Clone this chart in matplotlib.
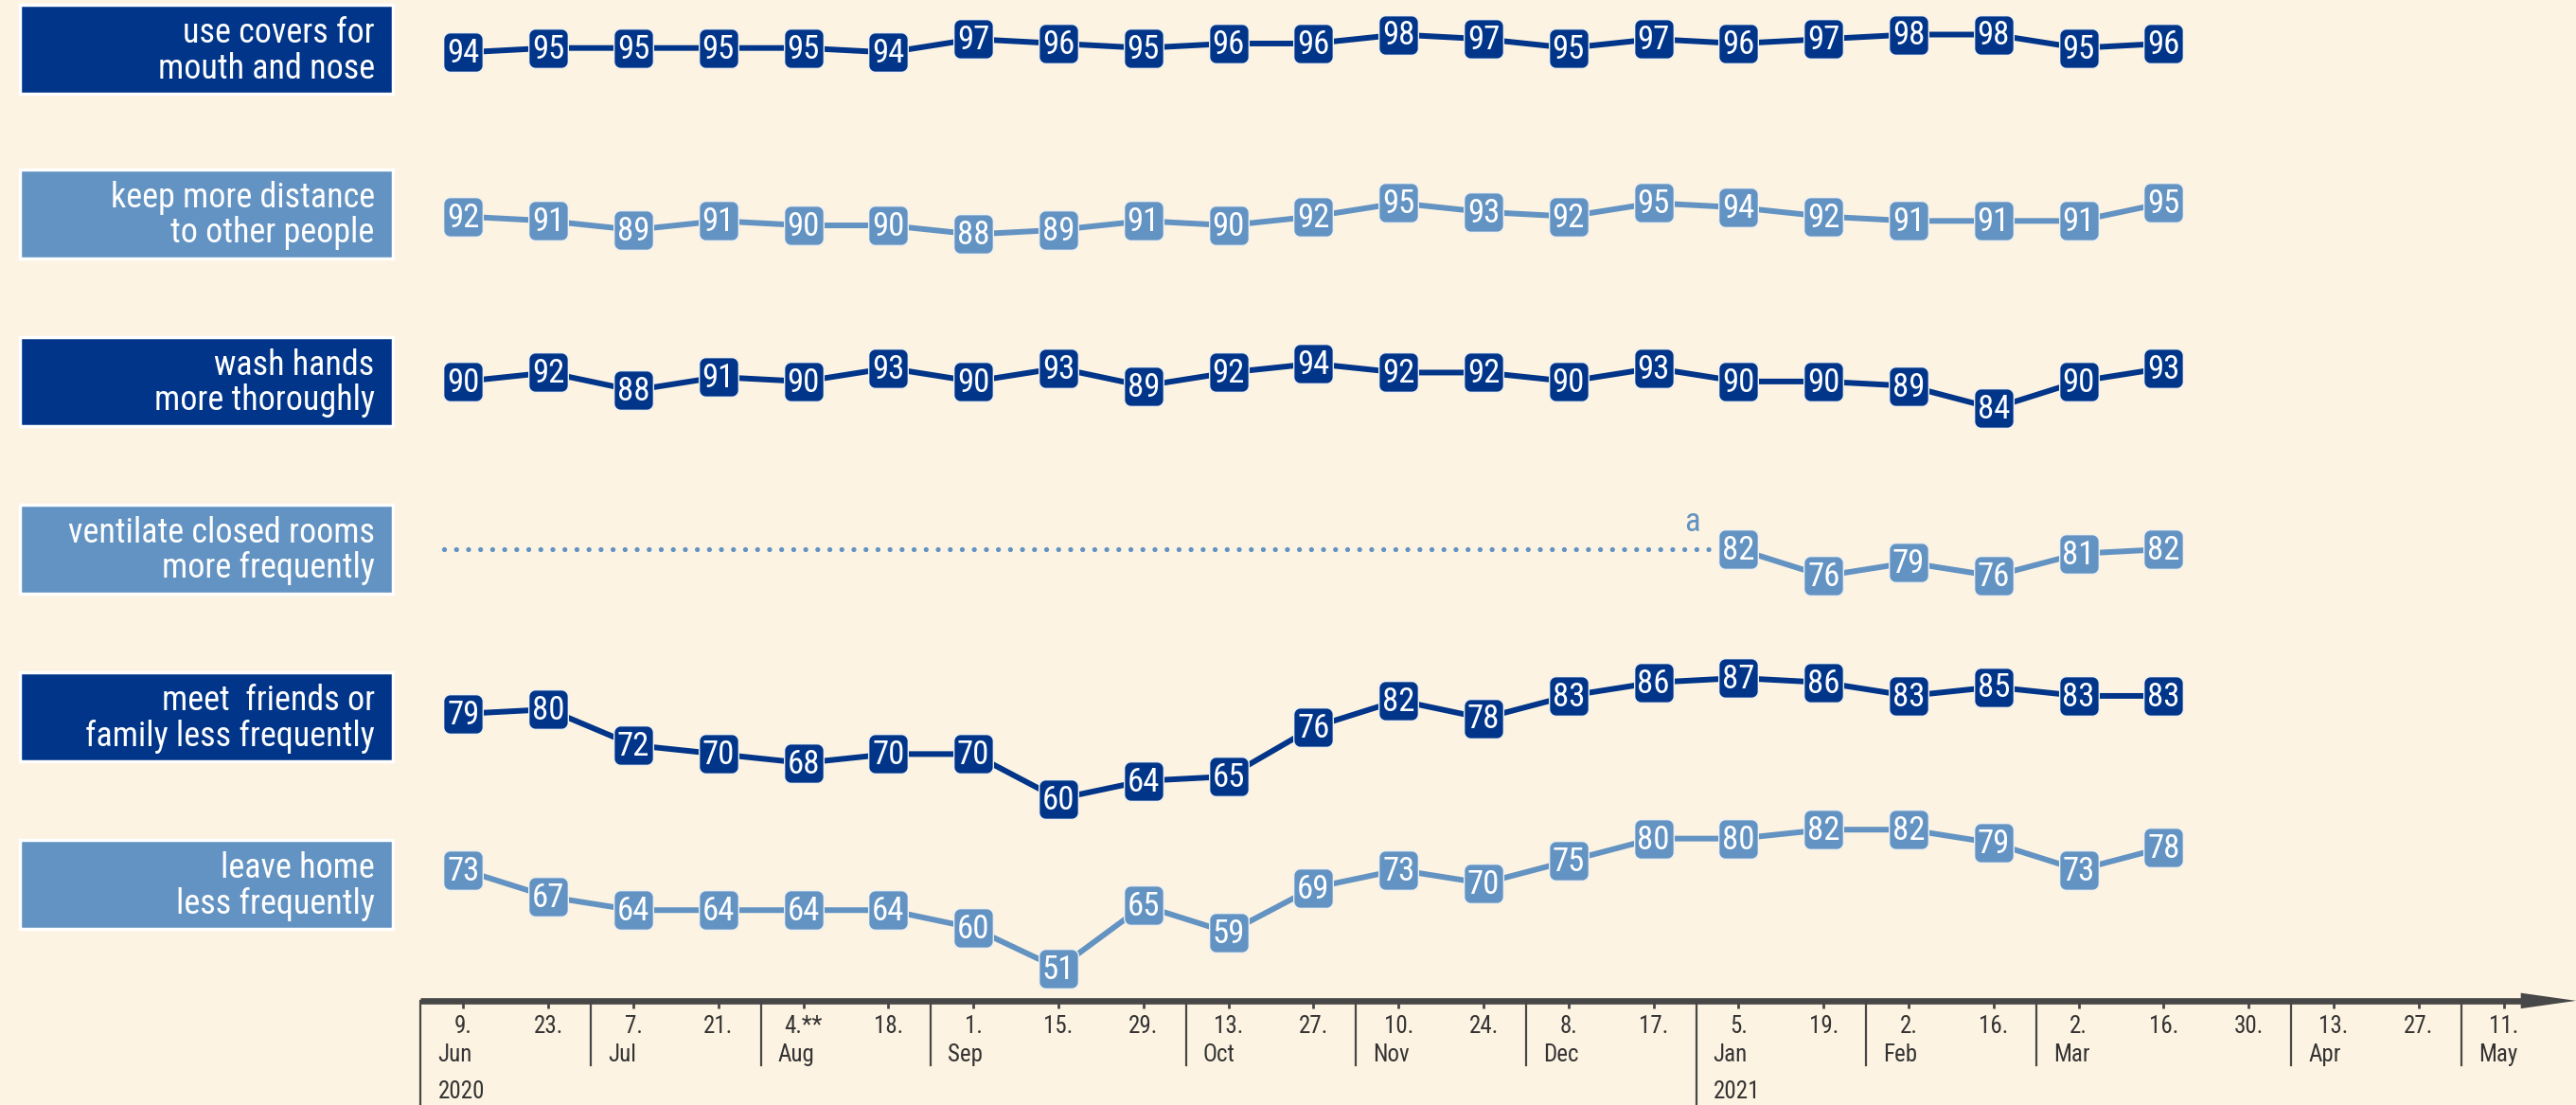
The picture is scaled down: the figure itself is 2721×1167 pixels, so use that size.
import numpy as np
import matplotlib
matplotlib.use("Agg")
import matplotlib.pyplot as plt
from matplotlib import font_manager
from matplotlib.path import Path
from matplotlib.patches import Rectangle, FancyArrow

# pick an installed narrow sans (the chart uses an Arial Narrow look)
installed = {f.name for f in font_manager.fontManager.ttflist}
narrow = [n for n in ['Liberation Sans Narrow', 'Arial Narrow', 'Roboto Condensed',
                      'Archivo Narrow', 'IBM Plex Sans Condensed'] if n in installed]
plt.rcParams['font.family'] = narrow[:1] + ['Liberation Sans', 'DejaVu Sans']

# data
behaviours = [
    "use covers for\nmouth and nose",
    "keep more distance\nto other people",
    "wash hands\nmore thoroughly",
    "ventilate closed rooms\nmore frequently",
    "meet  friends or\nfamily less frequently",
    "leave home\nless frequently",
]
covers = [94, 95, 95, 95, 95, 94, 97, 96, 95, 96, 96, 98, 97, 95, 97, 96, 97, 98, 98, 95, 96]
distance = [92, 91, 89, 91, 90, 90, 88, 89, 91, 90, 92, 95, 93, 92, 95, 94, 92, 91, 91, 91, 95]
wash = [90, 92, 88, 91, 90, 93, 90, 93, 89, 92, 94, 92, 92, 90, 93, 90, 90, 89, 84, 90, 93]
ventilate = [None] * 15 + [82, 76, 79, 76, 81, 82]
meet = [79, 80, 72, 70, 68, 70, 70, 60, 64, 65, 76, 82, 78, 83, 86, 87, 86, 83, 85, 83, 83]
leave_home = [73, 67, 64, 64, 64, 64, 60, 51, 65, 59, 69, 73, 70, 75, 80, 80, 82, 82, 79, 73, 78]
series = [covers, distance, wash, ventilate, meet, leave_home]

day_labels = ["9.", "23.", "7.", "21.", "4.**", "18.", "1.", "15.", "29.", "13.", "27.",
              "10.", "24.", "8.", "17.", "5.", "19.", "2.", "16.", "2.", "16.", "30.",
              "13.", "27.", "11."]
month_names = ["Jun", "Jul", "Aug", "Sep", "Oct", "Nov", "Dec", "Jan", "Feb", "Mar", "Apr", "May"]
month_start = [0, 2, 4, 6, 9, 11, 13, 15, 17, 19, 22, 24]
year_names = ["2020", "2021"]
year_start = [0, 15]

# style / layout (reference layout measured on a 1568x672 grid)
BG = '#fdf3e2'
DARK = '#003589'
LIGHT = '#6393c2'
AXIS_C = '#474747'
row_colors = [DARK, LIGHT, DARK, LIGHT, DARK, LIGHT]
row_center_px = [30, 130, 232, 334, 436, 538]
row_center_val = [94.7, 92.6, 90.0, 82.0, 78.3, 69.7]
ROW_H = 102
VAL_SPAN = 37.5
GW, GH = 1568.0, 672.0
X0_PX, STEP_PX = 282.0, 51.75
XLIM = (-0.6, 24.85)


def fx(px):
    return px / GW


def fy(py):
    return 1 - py / GH


def rounded_square(r=0.17, n=10):
    pts = []
    for cx, cy, a0 in [(0.5 - r, 0.5 - r, 0), (-0.5 + r, 0.5 - r, 90),
                       (-0.5 + r, -0.5 + r, 180), (0.5 - r, -0.5 + r, 270)]:
        for t in np.linspace(a0, a0 + 90, n):
            pts.append((cx + r * np.cos(np.radians(t)), cy + r * np.sin(np.radians(t))))
    pts.append(pts[0])
    return Path(pts, closed=True)


MARKER = rounded_square()

fig = plt.figure(figsize=(27.21, 11.67), dpi=100)
fig.patch.set_facecolor(BG)

ax_left = fx(X0_PX + STEP_PX * XLIM[0])
ax_width = fx(X0_PX + STEP_PX * XLIM[1]) - ax_left

for i, (label, vals) in enumerate(zip(behaviours, series)):
    c = row_center_px[i]
    color = row_colors[i]

    # label box
    fig.patches.append(Rectangle((fx(12), fy(c + 27)), fx(239) - fx(12), fy(c - 27) - fy(c + 27),
                                 transform=fig.transFigure, facecolor=color,
                                 edgecolor='white', linewidth=2.5, zorder=1))
    fig.text(fx(228), fy(c + 1), label, ha='right', va='center', color='white',
             fontsize=26, linespacing=1.05)

    ax = fig.add_axes([ax_left, fy(c + ROW_H / 2), ax_width, ROW_H / GH])
    ax.set_xlim(*XLIM)
    cv = row_center_val[i]
    ax.set_ylim(cv - VAL_SPAN / 2, cv + VAL_SPAN / 2)
    ax.axis('off')
    ax.patch.set_alpha(0)

    xs = [k for k, v in enumerate(vals) if v is not None]
    ys = [v for v in vals if v is not None]
    ax.plot(xs, ys, color=color, lw=4.3, zorder=2, clip_on=False,
            marker=MARKER, markersize=30, markerfacecolor=color,
            markeredgecolor='#eef0f0', markeredgewidth=1.0)
    for x, y in zip(xs, ys):
        ax.text(x, y - 0.3, str(y), ha='center', va='center', color='white',
                fontsize=25, zorder=4, clip_on=False)

    if xs[0] > 0:
        # no earlier survey values: dotted lead-in and footnote marker
        ax.plot([-0.23, xs[0] - 0.25], [ys[0], ys[0]], color=color, lw=3.8,
                linestyle=(0, (0.01, 2.4)), dash_capstyle='round', zorder=1)
        ax.text(xs[0] - 0.55, ys[0] + 6, 'a', color=color, fontsize=25,
                ha='center', va='center')

# timeline
tax = fig.add_axes([ax_left, 0, ax_width, fy(595)])
tax.set_xlim(*XLIM)
tax.set_ylim(672, 595)
tax.axis('off')
tax.patch.set_alpha(0)

LINE_Y = 608.6
tax.plot([-0.5, 24.3], [LINE_Y, LINE_Y], color=AXIS_C, lw=4.8, solid_capstyle='butt')
tax.add_patch(FancyArrow(24.2, LINE_Y, 0.001, 0, width=0, head_width=9.5,
                         head_length=0.65, length_includes_head=False,
                         color=AXIS_C, lw=0))
ticks = np.arange(len(day_labels))
tax.plot(ticks, [LINE_Y + 3] * len(ticks), linestyle='none', marker='|',
         markersize=5, mew=2, color=AXIS_C)
for k, d in enumerate(day_labels):
    tax.text(k, 624, d, ha='center', va='center', fontsize=18, color='#333333')

for name, k in zip(month_names, month_start):
    bottom = 672 if k in year_start else 648
    tax.plot([k - 0.5, k - 0.5], [LINE_Y, bottom], color=AXIS_C, lw=1.6, clip_on=False)
    tax.text(k - 0.5 + 0.2, 641.5, name, ha='left', va='center', fontsize=18, color='#333333')

for name, k in zip(year_names, year_start):
    tax.text(k - 0.5 + 0.2, 664, name, ha='left', va='center', fontsize=18, color='#333333')

fig.savefig('out.png', dpi=100, facecolor=BG)
